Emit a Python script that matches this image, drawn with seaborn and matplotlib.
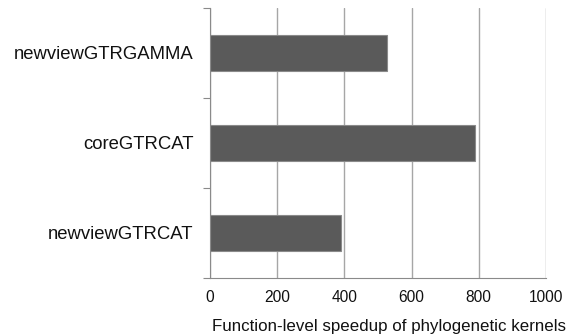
import matplotlib
matplotlib.use('Agg')
import matplotlib.pyplot as plt
import seaborn as sns
import pandas as pd
from matplotlib.ticker import FixedLocator

kernels = ["newviewGTRGAMMA", "coreGTRCAT", "newviewGTRCAT"]
speedup = [526, 788, 389]
xticks = [0, 200, 400, 600, 800, 1000]

df = pd.DataFrame({"kernel": kernels, "speedup": speedup})

sns.set_theme(style="white")
plt.rcParams['font.family'] = ['Liberation Sans', 'DejaVu Sans']

fig = plt.figure(figsize=(5.71, 3.34), dpi=100)
ax = fig.add_axes([0.3678, 0.1677, 0.5884, 0.8084])

sns.barplot(data=df, x="speedup", y="kernel", order=kernels, color="#5a5a5a",
            width=0.39, edgecolor="#8a8a8a", linewidth=0.8, saturation=1, ax=ax)

ax.set_xlim(0, 1000)
ax.set_ylim(2.5, -0.5)
ax.set_xticks(xticks)
ax.set_xticklabels([str(t) for t in xticks], fontsize=11.2, color="#111111")
ax.xaxis.grid(True, color="#a6a6a6", linewidth=1)
ax.set_axisbelow(True)

ax.yaxis.set_minor_locator(FixedLocator([-0.5, 0.5, 1.5, 2.5]))
ax.tick_params(axis='y', which='major', length=0, pad=12, labelsize=13.3, labelcolor="#111111")
ax.tick_params(axis='y', which='minor', length=5, width=0.8, color="#8a8a8a", left=True)
ax.tick_params(axis='x', which='major', length=0, pad=9)

for side in ["top", "right"]:
    ax.spines[side].set_visible(False)
for side in ["left", "bottom"]:
    ax.spines[side].set_color("#8a8a8a")
    ax.spines[side].set_linewidth(0.8)

ax.set_ylabel("")
ax.set_xlabel("Function-level speedup of phylogenetic kernels", fontsize=12.2,
              color="#111111")
ax.xaxis.set_label_coords(0.533, -0.181)
ax.xaxis.label.set_va("center")

plt.savefig("out.png", dpi=100)
